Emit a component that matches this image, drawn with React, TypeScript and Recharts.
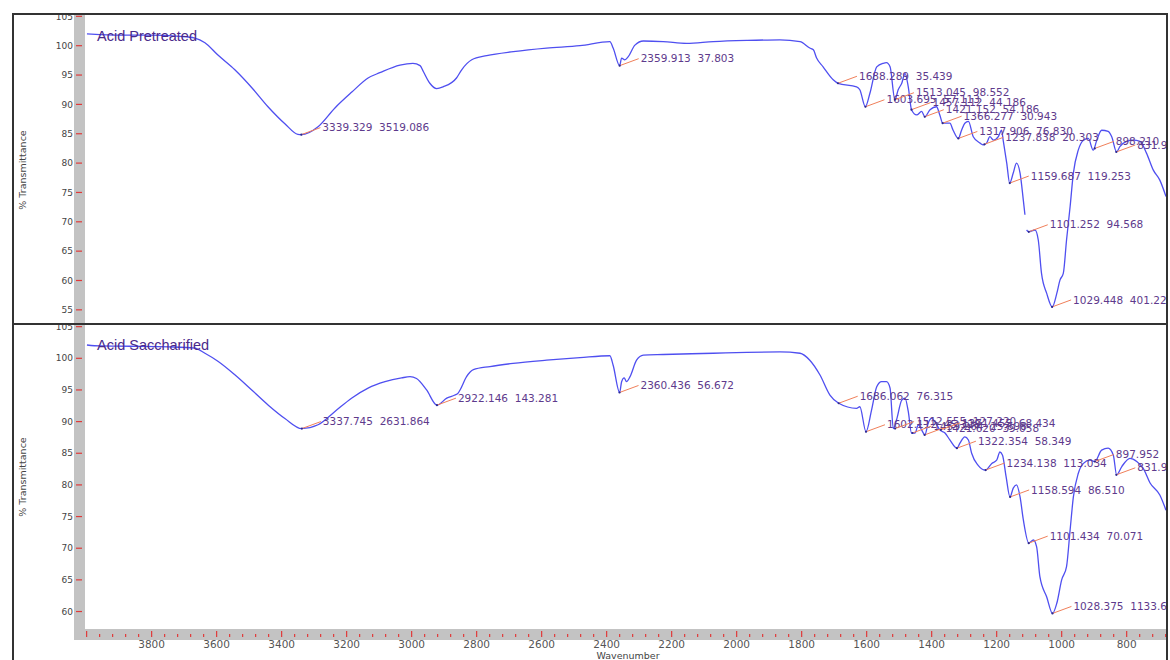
import { ComposedChart, Line, Scatter, XAxis, YAxis } from "recharts";

const TITLE_FONT = '"Liberation Sans", Arial, sans-serif';
const SMALL_FONT = '"DejaVu Sans", Verdana, sans-serif';
const CURVE = "#4f4ff0";
const LEADER = "#f07f5a";
const PEAK_TEXT = "#5e3a8c";
const RED_TICK = "#e03a3a";
const STRIP = "#c3c3c3";

// wavenumber (cm-1) shown from left edge to right edge of the plot
const WN_DOMAIN: [number, number] = [679, 4005];
const WN_LABELS = [3800, 3600, 3400, 3200, 3000, 2800, 2600, 2400, 2200, 2000, 1800, 1600, 1400, 1200, 1000, 800];
const WN_TICKS: number[] = [];
for (let v = 4000; v >= 680; v -= 40) WN_TICKS.push(v);

const TOP_Y_TICKS = [55, 60, 65, 70, 75, 80, 85, 90, 95, 100, 105];
const BOT_Y_TICKS = [60, 65, 70, 75, 80, 85, 90, 95, 100, 105];

// Acid Pretreated spectrum
const PRE_WN = [
  3999, 3959, 3867, 3805, 3713, 3667, 3636, 3596, 3544, 3491, 3442, 3390, 3350, 3339, 3288, 3236, 3184, 3134,
  3098, 3036, 2996, 2974, 2964, 2944, 2923, 2903, 2862, 2846, 2815, 2769, 2687, 2585, 2482, 2390, 2380, 2360,
  2354, 2344, 2334, 2313, 2287, 2226, 2154, 2072, 1969, 1867, 1805, 1775, 1764, 1754, 1734, 1703, 1688, 1631,
  1621, 1604, 1590, 1569, 1549, 1539, 1528, 1513, 1503, 1492, 1482, 1472, 1462, 1446, 1431, 1421, 1405, 1385,
  1375, 1366, 1344, 1334, 1318, 1308, 1298, 1287, 1272, 1251, 1241, 1231, 1221, 1210, 1195, 1185, 1180, 1169,
  1160, 1149, 1139, 1128, 1118, 1113, 1110, 1108, 1101, 1082, 1072, 1062, 1046, 1029, 1015, 1005, 995, 985,
  974, 964, 949, 933, 918, 903, 892, 877, 857, 846, 831, 821, 800, 780, 759, 739, 718, 698, 679,
];
const PRE_T: (number | null)[] = [
  102.0, 101.9, 101.8, 101.8, 101.6, 101.3, 100.5, 98.4, 95.9, 92.8, 89.6, 86.7, 84.9, 84.85, 86.2, 89.4, 92.1, 94.5,
  95.4, 96.7, 97.0, 96.6, 95.6, 93.6, 92.7, 93.0, 94.5, 95.9, 97.6, 98.3, 99.0, 99.6, 100.0, 100.7, 99.6, 96.6,
  97.9, 97.6, 98.1, 100.1, 100.8, 100.7, 100.4, 100.7, 100.9, 101.0, 100.7, 99.6, 99.3, 97.9, 96.4, 94.2, 93.6, 93.0,
  92.5, 89.6, 91.9, 96.4, 97.0, 97.1, 96.4, 90.8, 92.5, 93.6, 95.3, 93.0, 89.1, 88.2, 88.8, 87.9, 89.1, 89.6,
  88.2, 86.8, 86.8, 85.6, 84.2, 85.6, 86.8, 87.1, 84.5, 83.4, 83.1, 83.4, 84.5, 83.9, 84.5, 85.6, 83.9, 80.0,
  76.6, 78.3, 80.0, 78.3, 73.7, 71.2, null, 68.6, 68.3, 68.6, 66.9, 61.2, 57.8, 55.5, 57.8, 60.1, 61.2, 66.9,
  72.6, 78.3, 82.2, 83.9, 84.2, 82.2, 83.9, 85.6, 85.4, 84.5, 81.9, 82.8, 83.7, 83.9, 83.7, 81.7, 78.8, 77.1, 74.3,
];

// Acid Saccharified spectrum
const SAC_WN = [
  3999, 3959, 3867, 3744, 3667, 3636, 3595, 3544, 3492, 3441, 3390, 3338, 3288, 3236, 3185, 3134, 3082, 3031,
  3005, 2985, 2954, 2922, 2892, 2867, 2857, 2851, 2831, 2810, 2759, 2688, 2585, 2482, 2390, 2380, 2360, 2354,
  2346, 2339, 2328, 2308, 2287, 2226, 2072, 1969, 1867, 1805, 1775, 1744, 1713, 1686, 1631, 1621, 1602, 1585,
  1569, 1554, 1539, 1528, 1518, 1508, 1492, 1482, 1472, 1462, 1451, 1441, 1431, 1421, 1411, 1400, 1390, 1375,
  1359, 1344, 1322, 1313, 1298, 1287, 1277, 1257, 1234, 1215, 1200, 1190, 1182, 1171, 1159, 1149, 1139, 1128,
  1118, 1101, 1087, 1077, 1067, 1046, 1028, 1015, 1000, 985, 974, 964, 949, 933, 913, 898, 877, 857, 841, 831,
  815, 790, 769, 749, 728, 698, 679,
];
const SAC_T = [
  102.1, 101.95, 101.9, 101.8, 101.6, 100.8, 99.5, 97.4, 95.0, 92.6, 90.5, 88.9, 89.5, 91.6, 93.7, 95.3, 96.3, 96.9,
  97.1, 96.8, 95.0, 92.6, 93.7, 94.2, 94.5, 95.0, 97.1, 98.2, 98.7, 99.2, 99.7, 100.1, 100.4, 98.9, 94.6, 96.3,
  96.9, 96.3, 97.1, 99.7, 100.5, 100.6, 100.8, 100.95, 101.0, 100.8, 99.7, 97.4, 94.2, 92.9, 92.1, 92.35, 88.4, 91.8,
  95.5, 96.3, 96.3, 95.3, 88.9, 90.3, 93.4, 93.7, 91.6, 88.2, 88.2, 89.5, 88.7, 87.9, 89.7, 90.5, 90.0, 88.7,
  88.2, 87.1, 85.8, 86.6, 87.6, 87.1, 85.0, 83.1, 82.35, 83.4, 83.9, 85.2, 84.7, 81.3, 78.1, 79.5, 80.0, 78.1,
  74.5, 70.8, 71.3, 70.2, 65.5, 62.3, 59.7, 61.3, 65.0, 67.1, 72.9, 78.1, 81.8, 83.4, 83.9, 83.7, 85.5, 85.8, 84.7, 81.6,
  82.9, 84.2, 83.7, 82.6, 80.3, 78.4, 76.0,
];

// peak picks: position, transmittance at the pick, printed label
const PRE_PEAK_WN = [3339.329, 2359.913, 1688.289, 1603.695, 1513.045, 1462.152, 1421.152, 1366.277, 1317.906, 1237.838, 1159.687, 1101.252, 1029.448, 898.21, 831.915];
const PRE_PEAK_T = [84.85, 96.6, 93.6, 89.6, 90.8, 89.1, 87.9, 86.8, 84.2, 83.2, 76.6, 68.3, 55.5, 82.5, 81.9];
const PRE_PEAK_LABEL = [
  "3339.329  3519.086", "2359.913  37.803", "1688.289  35.439", "1603.695  57.113", "1513.045  98.552",
  "1457.112  44.186", "1421.152  54.186", "1366.277  30.943", "1317.906  76.830", "1237.838  20.303",
  "1159.687  119.253", "1101.252  94.568", "1029.448  401.221", "898.210  31.914", "831.915  25.095",
];

const SAC_PEAK_WN = [3337.745, 2922.146, 2360.436, 1686.062, 1602.112, 1512.555, 1459.264, 1421.62, 1371.455, 1322.354, 1234.138, 1158.594, 1101.434, 1028.375, 897.952, 831.915];
const SAC_PEAK_T = [88.9, 92.6, 94.6, 92.9, 88.4, 88.9, 88.2, 87.9, 88.7, 85.8, 82.35, 78.1, 70.8, 59.7, 83.7, 81.6];
const SAC_PEAK_LABEL = [
  "3337.745  2631.864", "2922.146  143.281", "2360.436  56.672", "1686.062  76.315", "1602.112  45.328",
  "1512.555  127.220", "1459.264  25.698", "1421.620  39.058", "1371.455  68.434", "1322.354  58.349",
  "1234.138  113.034", "1158.594  86.510", "1101.434  70.071", "1028.375  1133.617", "897.952  85.611", "831.915  62.840",
];

const toPoints = (wn: number[], t: (number | null)[]) => wn.map((w, i) => ({ wn: w, t: t[i] }));
const toPeaks = (wn: number[], t: number[], label: string[]) => wn.map((w, i) => ({ wn: w, t: t[i], label: label[i] }));

function TransTick({ x, y, payload }: any) {
  return (
    <g>
      <line x1={x - 9} x2={x - 3} y1={y} y2={y} stroke={RED_TICK} strokeWidth={1.2} />
      <text x={x - 12} y={y} dy="0.35em" textAnchor="end" fontSize={9} fill="#444" fontFamily={SMALL_FONT}>
        {payload.value}
      </text>
    </g>
  );
}

function WnTick({ x, y, payload }: any) {
  const v = payload.value;
  const major = v % 200 === 0;
  return (
    <g>
      <line x1={x} x2={x} y1={y + (major ? 2 : 5)} y2={y + 8} stroke={RED_TICK} strokeWidth={1.2} />
      {major && WN_LABELS.includes(v) && (
        <text x={x} y={y + 19} textAnchor="middle" fontSize={10.5} fill="#555" fontFamily={SMALL_FONT}>
          {v}
        </text>
      )}
    </g>
  );
}

function PeakMark({ cx, cy, payload }: any) {
  return (
    <g>
      <line x1={cx} y1={cy} x2={cx + 19} y2={cy - 7} stroke={LEADER} strokeWidth={1} />
      <circle cx={cx} cy={cy} r={1.1} fill="#2a2a90" />
      <text
        x={cx + 21}
        y={cy - 7}
        dy="0.35em"
        fontSize={10.5}
        fill={PEAK_TEXT}
        fontFamily={SMALL_FONT}
        style={{ whiteSpace: "pre" }}
      >
        {payload.label}
      </text>
    </g>
  );
}

function SpectrumPanel({ points, peaks, domain, yTicks, height, showX }: any) {
  return (
    <ComposedChart width={1152} height={height} margin={{ top: 0, right: 0, bottom: 0, left: 0 }}>
      <XAxis
        type="number"
        dataKey="wn"
        domain={WN_DOMAIN}
        reversed
        allowDataOverflow
        hide={!showX}
        ticks={WN_TICKS}
        interval={0}
        height={31}
        tickSize={0}
        tickMargin={0}
        axisLine={false}
        tickLine={false}
        tick={<WnTick />}
      />
      <YAxis
        type="number"
        dataKey="t"
        domain={domain}
        allowDataOverflow
        ticks={yTicks}
        interval={0}
        width={71}
        tickSize={0}
        tickMargin={0}
        axisLine={false}
        tickLine={false}
        tick={<TransTick />}
      />
      <Line data={points} dataKey="t" type="monotoneX" stroke={CURVE} strokeWidth={1.3} dot={false} isAnimationActive={false} />
      <Scatter data={peaks} dataKey="t" shape={<PeakMark />} isAnimationActive={false} />
    </ComposedChart>
  );
}

export default function App() {
  const abs = (s: any) => ({ position: "absolute" as const, ...s });
  return (
    <div style={{ position: "fixed", left: 0, top: 0, width: 1170, height: 660, overflow: "hidden", background: "#fff" }}>
      {/* grey axis strips behind the plots */}
      <div style={abs({ left: 74, top: 15, width: 11, height: 308, background: STRIP })} />
      <div style={abs({ left: 74, top: 325, width: 11, height: 315, background: STRIP })} />
      <div style={abs({ left: 74, top: 629, width: 1094, height: 11, background: STRIP })} />

      <div style={abs({ left: 14, top: 15 })}>
        <SpectrumPanel
          points={toPoints(PRE_WN, PRE_T)}
          peaks={toPeaks(PRE_PEAK_WN, PRE_PEAK_T, PRE_PEAK_LABEL)}
          domain={[52.76, 105.23]}
          yTicks={TOP_Y_TICKS}
          height={308}
          showX={false}
        />
      </div>
      <div style={abs({ left: 14, top: 325 })}>
        <SpectrumPanel
          points={toPoints(SAC_WN, SAC_T)}
          peaks={toPeaks(SAC_PEAK_WN, SAC_PEAK_T, SAC_PEAK_LABEL)}
          domain={[57.24, 105.26]}
          yTicks={BOT_Y_TICKS}
          height={335}
          showX={true}
        />
      </div>

      <svg width={1170} height={660} style={abs({ left: 0, top: 0, pointerEvents: "none" })}>
        <text x={97} y={40.7} fontSize={14.5} fill="#4b2a8a" fontFamily={TITLE_FONT}>Acid Pretreated</text>
        <text x={97} y={350} fontSize={14.5} fill="#4b2a8a" fontFamily={TITLE_FONT}>Acid Saccharified</text>
        <text transform="translate(22.5,170) rotate(-90)" textAnchor="middle" dominantBaseline="central" fontSize={9.5} fill="#444" fontFamily={SMALL_FONT}>
          % Transmittance
        </text>
        <text transform="translate(22.5,477) rotate(-90)" textAnchor="middle" dominantBaseline="central" fontSize={9.5} fill="#444" fontFamily={SMALL_FONT}>
          % Transmittance
        </text>
        <text x={628} y={659} textAnchor="middle" fontSize={9.5} fill="#444" fontFamily={SMALL_FONT}>Wavenumber</text>
      </svg>

      {/* outer frame and panel divider */}
      <div style={abs({ left: 12, top: 13, width: 1156, height: 700, border: "2px solid #333", boxSizing: "border-box" })} />
      <div style={abs({ left: 12, top: 323, width: 1156, height: 2, background: "#333" })} />
    </div>
  );
}
